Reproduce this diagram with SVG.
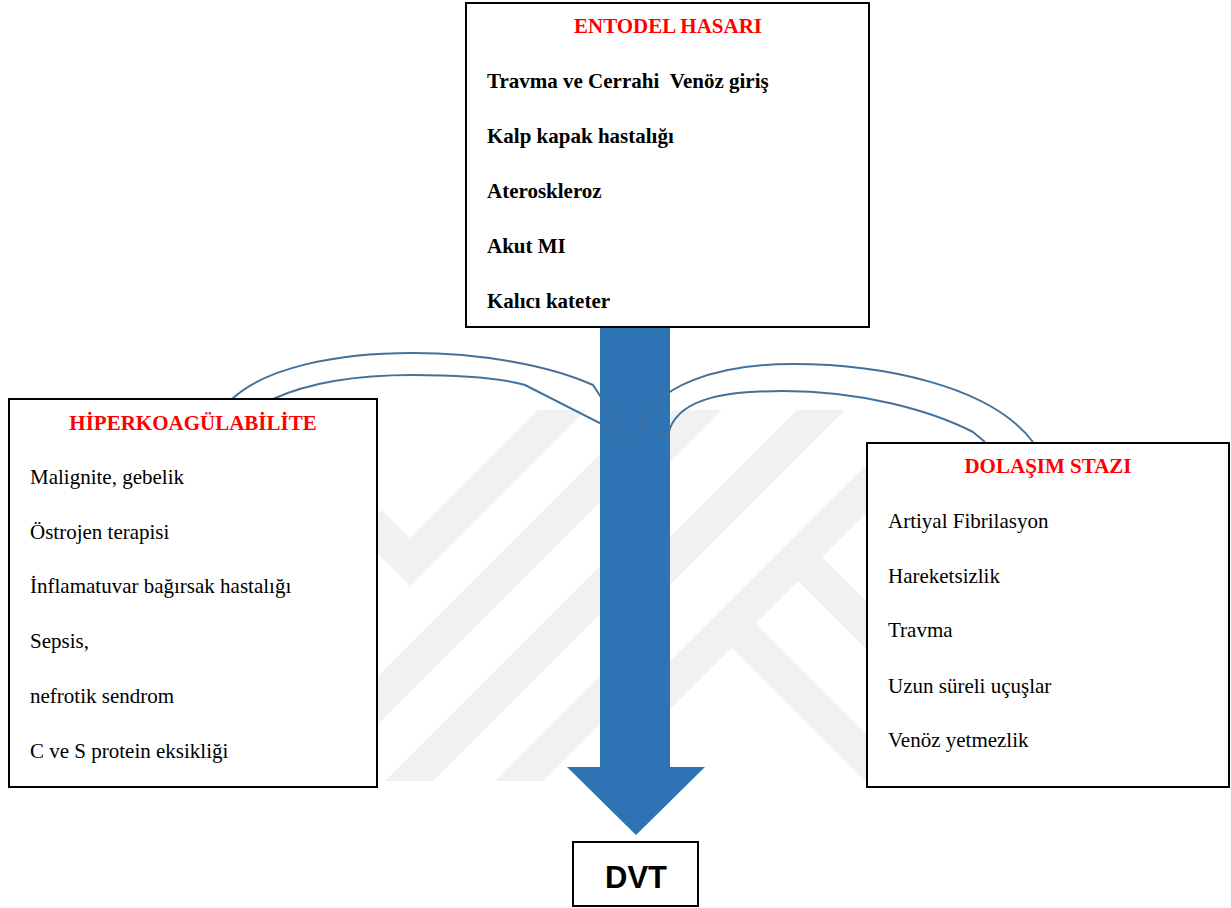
<svg xmlns="http://www.w3.org/2000/svg" width="1231" height="908" viewBox="0 0 1231 908">
<style>
.box{fill:#fff;stroke:#000;stroke-width:2}
.t{font-family:"Liberation Serif","Times New Roman",serif;font-size:21px;fill:#000}
.b{font-weight:bold}
.h{font-family:"Liberation Serif","Times New Roman",serif;font-size:21px;font-weight:bold;fill:#ff0000;text-anchor:middle}
.c{fill:none;stroke:#41719c;stroke-width:2;stroke-linejoin:miter}
.wm{fill:none;stroke:#f1f1f1;stroke-width:34;stroke-linecap:butt;stroke-linejoin:miter}
</style>
<defs>
<clipPath id="cl"><rect x="378" y="410" width="222" height="371"/></clipPath>
<clipPath id="cr"><rect x="669" y="410" width="197" height="371"/></clipPath>
</defs>
<rect width="1231" height="908" fill="#fff"/>
<g id="watermark">
<g clip-path="url(#cl)">
<polyline class="wm" points="582,390 410,562 370,522"/>
<line class="wm" x1="700" y1="378" x2="300" y2="778"/>
<line class="wm" x1="800" y1="390" x2="380" y2="810"/>
<line class="wm" x1="900" y1="400" x2="480" y2="820"/>
</g>
<g clip-path="url(#cr)">
<line class="wm" x1="720" y1="388" x2="600" y2="508"/>
<line class="wm" x1="860" y1="371" x2="600" y2="631"/>
<line class="wm" x1="960" y1="395" x2="600" y2="755"/>
<line class="wm" x1="805" y1="564" x2="900" y2="659"/>
<line class="wm" x1="735" y1="627" x2="900" y2="792"/>
</g>
</g>
<g id="arrow-main">
<polygon points="600,326 670,326 670,767 705,767 636,835 567,767 600,767" fill="#2e74b5"/>
</g>
<g id="connectors">
<path class="c" d="M273,399 C310,382 360,375 413,375 C460,375 500,378 525,385 L627,437 L593,385 C548,365 480,353 413,353 C335,353 265,368 232,399"/>
<path class="c" d="M985,442 L973,432 C930,410 860,391 783,391 C720,391 675,400 668,435 L642,430 C650,385 720,364 793,364 C880,364 990,385 1033,442"/>
</g>
<g id="node-entodel">
<rect class="box" x="466" y="3" width="403" height="324"/>
<text class="h" x="668" y="33">ENTODEL HASARI</text>
<text class="t b" x="487" y="88">Travma ve Cerrahi &#160;Venöz giriş</text>
<text class="t b" x="487" y="143">Kalp kapak hastalığı</text>
<text class="t b" x="487" y="198">Ateroskleroz</text>
<text class="t b" x="487" y="253">Akut MI</text>
<text class="t b" x="487" y="308">Kalıcı kateter</text>
</g>
<g id="node-hiperkoagulabilite">
<rect class="box" x="9" y="399" width="368" height="388"/>
<text class="h" x="193" y="430">HİPERKOAGÜLABİLİTE</text>
<text class="t" x="30" y="484">Malignite, gebelik</text>
<text class="t" x="30" y="539">Östrojen terapisi</text>
<text class="t" x="30" y="593">İnflamatuvar bağırsak hastalığı</text>
<text class="t" x="30" y="648">Sepsis,</text>
<text class="t" x="30" y="703">nefrotik sendrom</text>
<text class="t" x="30" y="758">C ve S protein eksikliği</text>
</g>
<g id="node-dolasim">
<rect class="box" x="867" y="443" width="362" height="344"/>
<text class="h" x="1048" y="473">DOLAŞIM STAZI</text>
<text class="t" x="888" y="528">Artiyal Fibrilasyon</text>
<text class="t" x="888" y="583">Hareketsizlik</text>
<text class="t" x="888" y="637">Travma</text>
<text class="t" x="888" y="693">Uzun süreli uçuşlar</text>
<text class="t" x="888" y="747">Venöz yetmezlik</text>
</g>
<g id="node-dvt">
<rect class="box" x="573" y="842" width="125" height="64"/>
<text x="636" y="888" text-anchor="middle" style="font-family:'Liberation Sans',Arial,sans-serif;font-size:31px;font-weight:bold;fill:#000">DVT</text>
</g>
</svg>
